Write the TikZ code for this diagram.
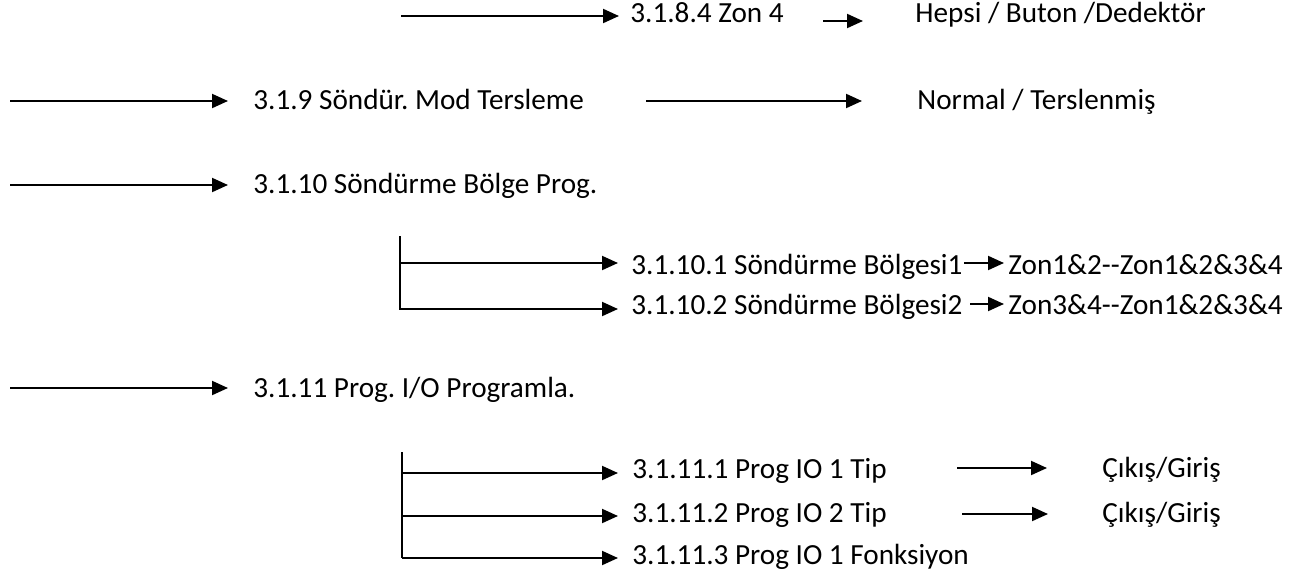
\documentclass[tikz,border=0pt]{standalone}
\usepackage{fontspec}
\setmainfont{Carlito}
\usetikzlibrary{arrows.meta}
\frenchspacing

\begin{document}
\begin{tikzpicture}[x=0.5pt,y=-0.5pt,
    lbl/.style={anchor=base west,inner sep=0pt,font=\fontsize{14.6}{17}\selectfont},
    arr/.style={line width=1pt,-{Triangle[length=8pt,width=7pt]}},
    ln/.style={line width=1pt}]
\useasboundingbox (0,0) rectangle (1306,573);

% Zon 4 row
\node[lbl] (zon4) at (630,23) {3.1.8.4 Zon 4};
\node[lbl] (zon4v) at (915,23) {Hepsi / Buton /Dedektör};
\coordinate (s14) at (401,16);
\coordinate (s14b) at (823,21);
\draw[arr,shorten >=5.5pt] (s14) -- (zon4.west |- s14);
\draw[arr,shorten >=26pt] (s14b) -- (zon4v.west |- s14b);

% 3.1.9
\node[lbl] (ters) at (253,109) {3.1.9 Söndür. Mod Tersleme};
\node[lbl] (tersv) at (917,109) {Normal / Terslenmiş};
\coordinate (s19) at (10,101);
\coordinate (s19b) at (646,101);
\draw[arr,shorten >=12.5pt] (s19) -- (ters.west |- s19);
\draw[arr,shorten >=27.5pt] (s19b) -- (tersv.west |- s19b);

% 3.1.10
\node[lbl] (bolge) at (253,193) {3.1.10 Söndürme Bölge Prog.};
\coordinate (s110) at (10,185);
\draw[arr,shorten >=12.5pt] (s110) -- (bolge.west |- s110);

\node[lbl] (b1) at (631,274) {3.1.10.1 Söndürme Bölgesi1};
\node[lbl] (b2) at (631,314) {3.1.10.2 Söndürme Bölgesi2};
\node[lbl] (b1v) at (1008,274) {Zon1\&2{-}{-}Zon1\&2\&3\&4};
\node[lbl] (b2v) at (1008,314) {Zon3\&4{-}{-}Zon1\&2\&3\&4};
\coordinate (v110) at (400,236);
\draw[ln] (v110) -- (400,310);
\draw[arr,shorten >=6.5pt] (400,263) -- (b1.west |- 0,263);
\draw[arr,shorten >=6.5pt] (400,309) -- (b2.west |- 0,309);
\draw[arr,shorten >=2pt] (964,263) -- (b1v.west |- 0,263);
\draw[arr,shorten >=2pt] (970,304) -- (b2v.west |- 0,304);

% 3.1.11
\node[lbl] (pio) at (253,397) {3.1.11 Prog. I/O Programla.};
\coordinate (s111) at (10,388);
\draw[arr,shorten >=12.5pt] (s111) -- (pio.west |- s111);

\node[lbl] (io1) at (632,478) {3.1.11.1 Prog IO 1 Tip};
\node[lbl] (io2) at (632,522) {3.1.11.2 Prog IO 2 Tip};
\node[lbl] (io3) at (632,564) {3.1.11.3 Prog IO 1 Fonksiyon};
\node[lbl] (io1v) at (1102,477) {Çıkış/Giriş};
\node[lbl] (io2v) at (1102,522) {Çıkış/Giriş};
\coordinate (v111) at (402,452);
\draw[ln] (v111) -- (402,558);
\draw[arr,shorten >=7pt] (402,473) -- (io1.west |- 0,473);
\draw[arr,shorten >=7pt] (402,516) -- (io2.west |- 0,516);
\draw[arr,shorten >=7pt] (402,558) -- (io3.west |- 0,558);
\draw[arr,shorten >=27.5pt] (957,468) -- (io1v.west |- 0,468);
\draw[arr,shorten >=27pt] (962,514) -- (io2v.west |- 0,514);
\end{tikzpicture}
\end{document}
